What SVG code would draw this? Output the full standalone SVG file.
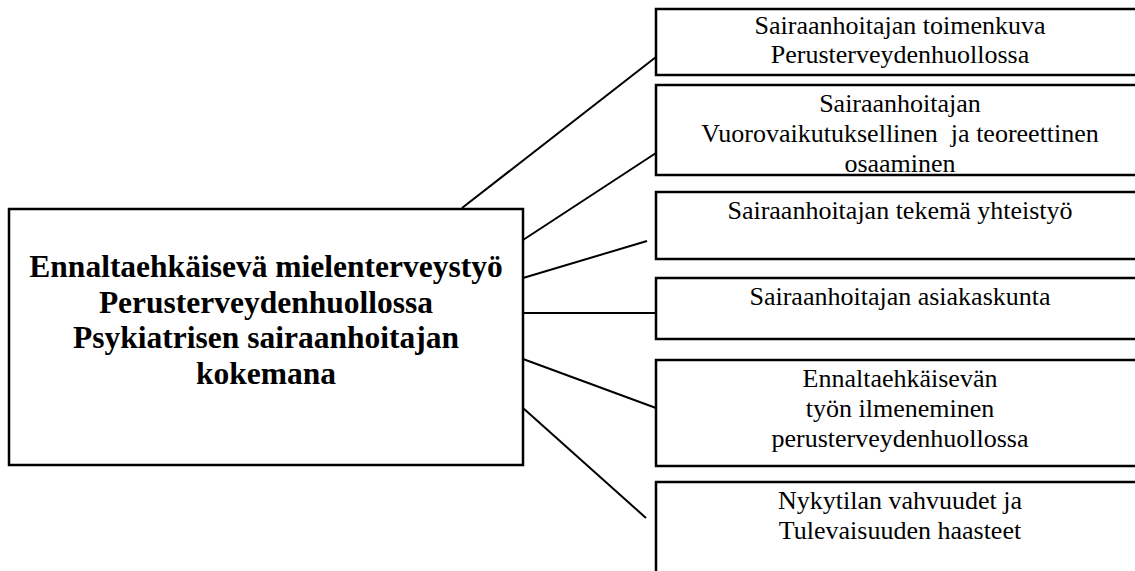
<svg xmlns="http://www.w3.org/2000/svg" width="1135" height="571" viewBox="0 0 1135 571">
<style>
.box{fill:#fff;stroke:#000;stroke-width:2.5}
.t{font-family:"Liberation Serif","Times New Roman",serif;font-size:26px;fill:#000;text-anchor:middle}
.m{font-family:"Liberation Serif","Times New Roman",serif;font-size:31.5px;font-weight:bold;fill:#000;text-anchor:middle}
.c line{stroke:#000;stroke-width:2}
</style>
<rect width="1135" height="571" fill="#fff"/>
<g id="connectors" class="c">
<line x1="462" y1="208" x2="656" y2="57"/>
<line x1="523" y1="240" x2="656" y2="153"/>
<line x1="523" y1="278" x2="647" y2="241"/>
<line x1="523" y1="313" x2="656" y2="313"/>
<line x1="523" y1="359" x2="656" y2="408"/>
<line x1="523" y1="408" x2="646" y2="518"/>
</g>
<g id="main">
<rect class="box" x="9" y="209" width="514" height="256"/>
<text class="m" x="266" y="277">Ennaltaehkäisevä mielenterveystyö</text>
<text class="m" x="266" y="312.5">Perusterveydenhuollossa</text>
<text class="m" x="266" y="348">Psykiatrisen sairaanhoitajan</text>
<text class="m" x="266" y="383.5">kokemana</text>
</g>
<g id="n1">
<rect class="box" x="656" y="9" width="500" height="66"/>
<text class="t" x="900" y="34">Sairaanhoitajan toimenkuva</text>
<text class="t" x="900" y="63">Perusterveydenhuollossa</text>
</g>
<g id="n2">
<rect class="box" x="656" y="85" width="500" height="90"/>
<text class="t" x="900" y="112">Sairaanhoitajan</text>
<text class="t" x="900" y="142" xml:space="preserve">Vuorovaikutuksellinen  ja teoreettinen</text>
<text class="t" x="900" y="172">osaaminen</text>
</g>
<g id="n3">
<rect class="box" x="656" y="192" width="500" height="67"/>
<text class="t" x="900" y="219">Sairaanhoitajan tekemä yhteistyö</text>
</g>
<g id="n4">
<rect class="box" x="656" y="278" width="500" height="61"/>
<text class="t" x="900" y="305">Sairaanhoitajan asiakaskunta</text>
</g>
<g id="n5">
<rect class="box" x="656" y="360" width="500" height="106"/>
<text class="t" x="900" y="387">Ennaltaehkäisevän</text>
<text class="t" x="900" y="417">työn ilmeneminen</text>
<text class="t" x="900" y="447">perusterveydenhuollossa</text>
</g>
<g id="n6">
<rect class="box" x="656" y="482" width="500" height="120"/>
<text class="t" x="900" y="509">Nykytilan vahvuudet ja</text>
<text class="t" x="900" y="539">Tulevaisuuden haasteet</text>
</g>
</svg>
